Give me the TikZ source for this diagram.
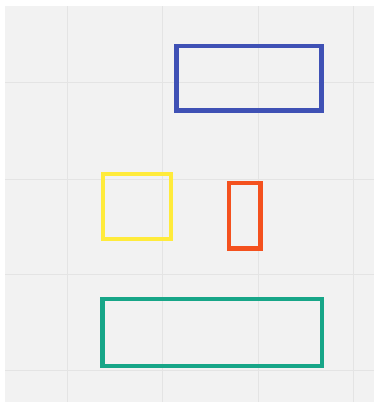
\documentclass[tikz,border=0pt]{standalone}
\usepackage{xcolor}
\usepackage{tikz}
\usetikzlibrary{positioning}

\definecolor{panelbg}{HTML}{F2F2F2}
\definecolor{gridln}{HTML}{E4E4E4}
\definecolor{boxblue}{HTML}{3F51B5}
\definecolor{boxyellow}{HTML}{FFEB3B}
\definecolor{boxred}{HTML}{F4511E}
\definecolor{boxgreen}{HTML}{17A688}

\begin{document}
\begin{tikzpicture}[
  x=1pt, y=-1pt,
  frame/.style={
    rectangle, draw, line width=4.5pt,
    inner sep=0pt, outer sep=0pt,
  },
  gridline/.style={draw=gridln, line width=1pt},
]
  \useasboundingbox (0,0) rectangle (374,402);
  \fill[panelbg] (5,6) rectangle (374,402);

  % grid
  \foreach \gx in {67,162.3,258,353.5}
    \draw[gridline] (\gx,6) -- (\gx,402);
  \foreach \gy in {82.7,179,274.5,370}
    \draw[gridline] (5,\gy) -- (374,\gy);

  \node[frame, draw=boxblue, minimum width=145pt, minimum height=64.5pt]
    (topbox) at (249,78.25) {};
  \node[frame, draw=boxyellow, minimum width=68pt, minimum height=65pt]
    (leftbox) at (137,206.5) {};
  \node[frame, draw=boxred, minimum width=31.5pt, minimum height=65.5pt]
    (thinbox) at (244.75,215.75) {};
  \node[frame, draw=boxgreen, minimum width=219.5pt, minimum height=67pt]
    (widebox) at (212.25,332.5) {};
\end{tikzpicture}
\end{document}
